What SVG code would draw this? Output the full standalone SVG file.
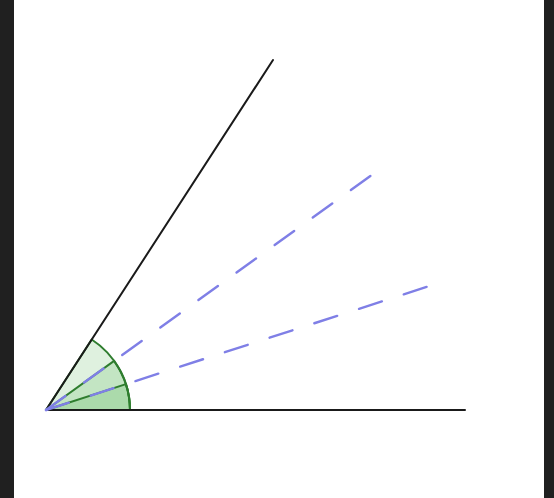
<svg xmlns="http://www.w3.org/2000/svg" width="554" height="498" viewBox="0 0 554 498">
  <style>
    .ray { stroke: #1a1a1a; stroke-width: 2; fill: none; stroke-linecap: round; }
    .dash { stroke: #7f7fe6; stroke-width: 2.4; fill: none; stroke-dasharray: 24 23; stroke-linecap: round; }
    .sector { fill: #1f9a1f; fill-opacity: 0.14; stroke: #2e7d2e; stroke-width: 2; stroke-linejoin: round; }
  </style>
  <rect x="0" y="0" width="554" height="498" fill="#202020"/>
  <rect x="14" y="0" width="530" height="498" fill="#ffffff"/>
  <g id="angle-sectors">
    <path class="sector" d="M46,410 L130,410 A84,84 0 0 0 91.72,339.53 Z"/>
    <path class="sector" d="M46,410 L130,410 A84,84 0 0 0 114.12,360.84 Z"/>
    <path class="sector" d="M46,410 L130,410 A84,84 0 0 0 125.93,384.15 Z"/>
  </g>
  <g id="connectors">
    <line id="ray-base" class="ray" x1="46" y1="410" x2="465" y2="410"/>
    <line id="ray-upper" class="ray" x1="46" y1="410" x2="273" y2="60"/>
    <line id="dash-upper" class="dash" x1="46" y1="410" x2="373" y2="174"/>
    <line id="dash-lower" class="dash" x1="46" y1="410" x2="429.5" y2="286"/>
  </g>
</svg>
